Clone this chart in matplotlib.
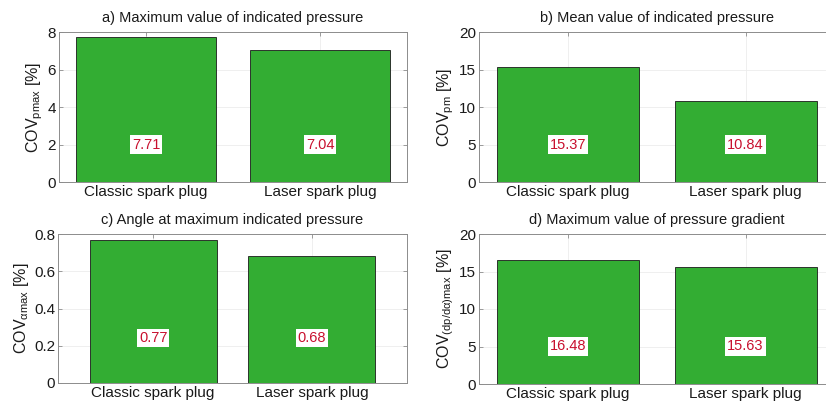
import matplotlib
matplotlib.use('Agg')
import matplotlib.pyplot as plt

plt.rcParams['font.family'] = ['Liberation Sans', 'DejaVu Sans']
plt.rcParams['mathtext.fontset'] = 'custom'
plt.rcParams['mathtext.rm'] = 'Liberation Sans'
plt.rcParams['mathtext.it'] = 'Liberation Sans'

# === Data ===
categories = ['Classic spark plug', 'Laser spark plug']
titles = ['a) Maximum value of indicated pressure',
          'b) Mean value of indicated pressure',
          'c) Angle at maximum indicated pressure',
          'd) Maximum value of pressure gradient']
ylabels = [r'COV$_{\mathrm{pmax}}$ [%]',
           r'COV$_{\mathrm{pm}}$ [%]',
           r'COV$_{\alpha\mathrm{max}}$ [%]',
           r'COV$_{\mathrm{(dp/d\alpha)max}}$ [%]']
values = [[7.71, 7.04], [15.37, 10.84], [0.77, 0.68], [16.48, 15.63]]
ylims = [8, 20, 0.8, 20]
yticks = [[0, 2, 4, 6, 8], [0, 5, 10, 15, 20], [0, 0.2, 0.4, 0.6, 0.8], [0, 5, 10, 15, 20]]
ytick_labels = [['0', '2', '4', '6', '8'], ['0', '5', '10', '15', '20'],
                ['0', '0.2', '0.4', '0.6', '0.8'], ['0', '5', '10', '15', '20']]
label_y = [2, 5, 0.24, 5]
xlims = [(0.5, 2.5), (0.5, 2.5), (0.4, 2.6), (0.5, 2.5)]

# === Layout (pixel boxes: left, right, top, bottom) ===
W, H = 826, 403
boxes = [(59, 407, 32, 182), (479, 834.5, 32, 182),
         (58, 407, 234, 383), (479, 834.5, 234, 384)]

fig = plt.figure(figsize=(W / 100, H / 100), dpi=100)
fig.set_facecolor('white')

bar_color = '#33ad33'
spine_color = '#8c8c8c'

for i in range(4):
    l, r, t, b = boxes[i]
    ax = fig.add_axes([l / W, 1 - b / H, (r - l) / W, (b - t) / H])
    x = [1, 2]
    ax.bar(x, values[i], width=0.8, color=bar_color, edgecolor='#1a1a1a', linewidth=0.6, zorder=3)
    ax.set_xlim(*xlims[i])
    ax.set_ylim(0, ylims[i])
    ax.set_xticks(x)
    ax.set_xticklabels(categories)
    ax.set_yticks(yticks[i])
    ax.set_yticklabels(ytick_labels[i])
    ax.grid(True, color='#ececec', linewidth=0.6, zorder=0)
    ax.set_axisbelow(True)
    ax.tick_params(direction='in', length=3, width=0.6, color=spine_color,
                   labelsize=11, labelcolor='#1a1a1a', top=True, right=True, pad=2)
    for s in ax.spines.values():
        s.set_color(spine_color)
        s.set_linewidth(0.7)
    ax.set_title(titles[i], fontsize=10.5, color='#1a1a1a', pad=7)
    ax.set_ylabel(ylabels[i], fontsize=11.5, color='#1a1a1a', labelpad=2)
    for xi, v in zip(x, values[i]):
        ax.text(xi, label_y[i], f'{v:.2f}', ha='center', va='center', fontsize=10.5,
                color='#c8102e', zorder=5,
                bbox=dict(facecolor='white', edgecolor='none', pad=1.5))

plt.savefig('out.png', dpi=100)
plt.close()
